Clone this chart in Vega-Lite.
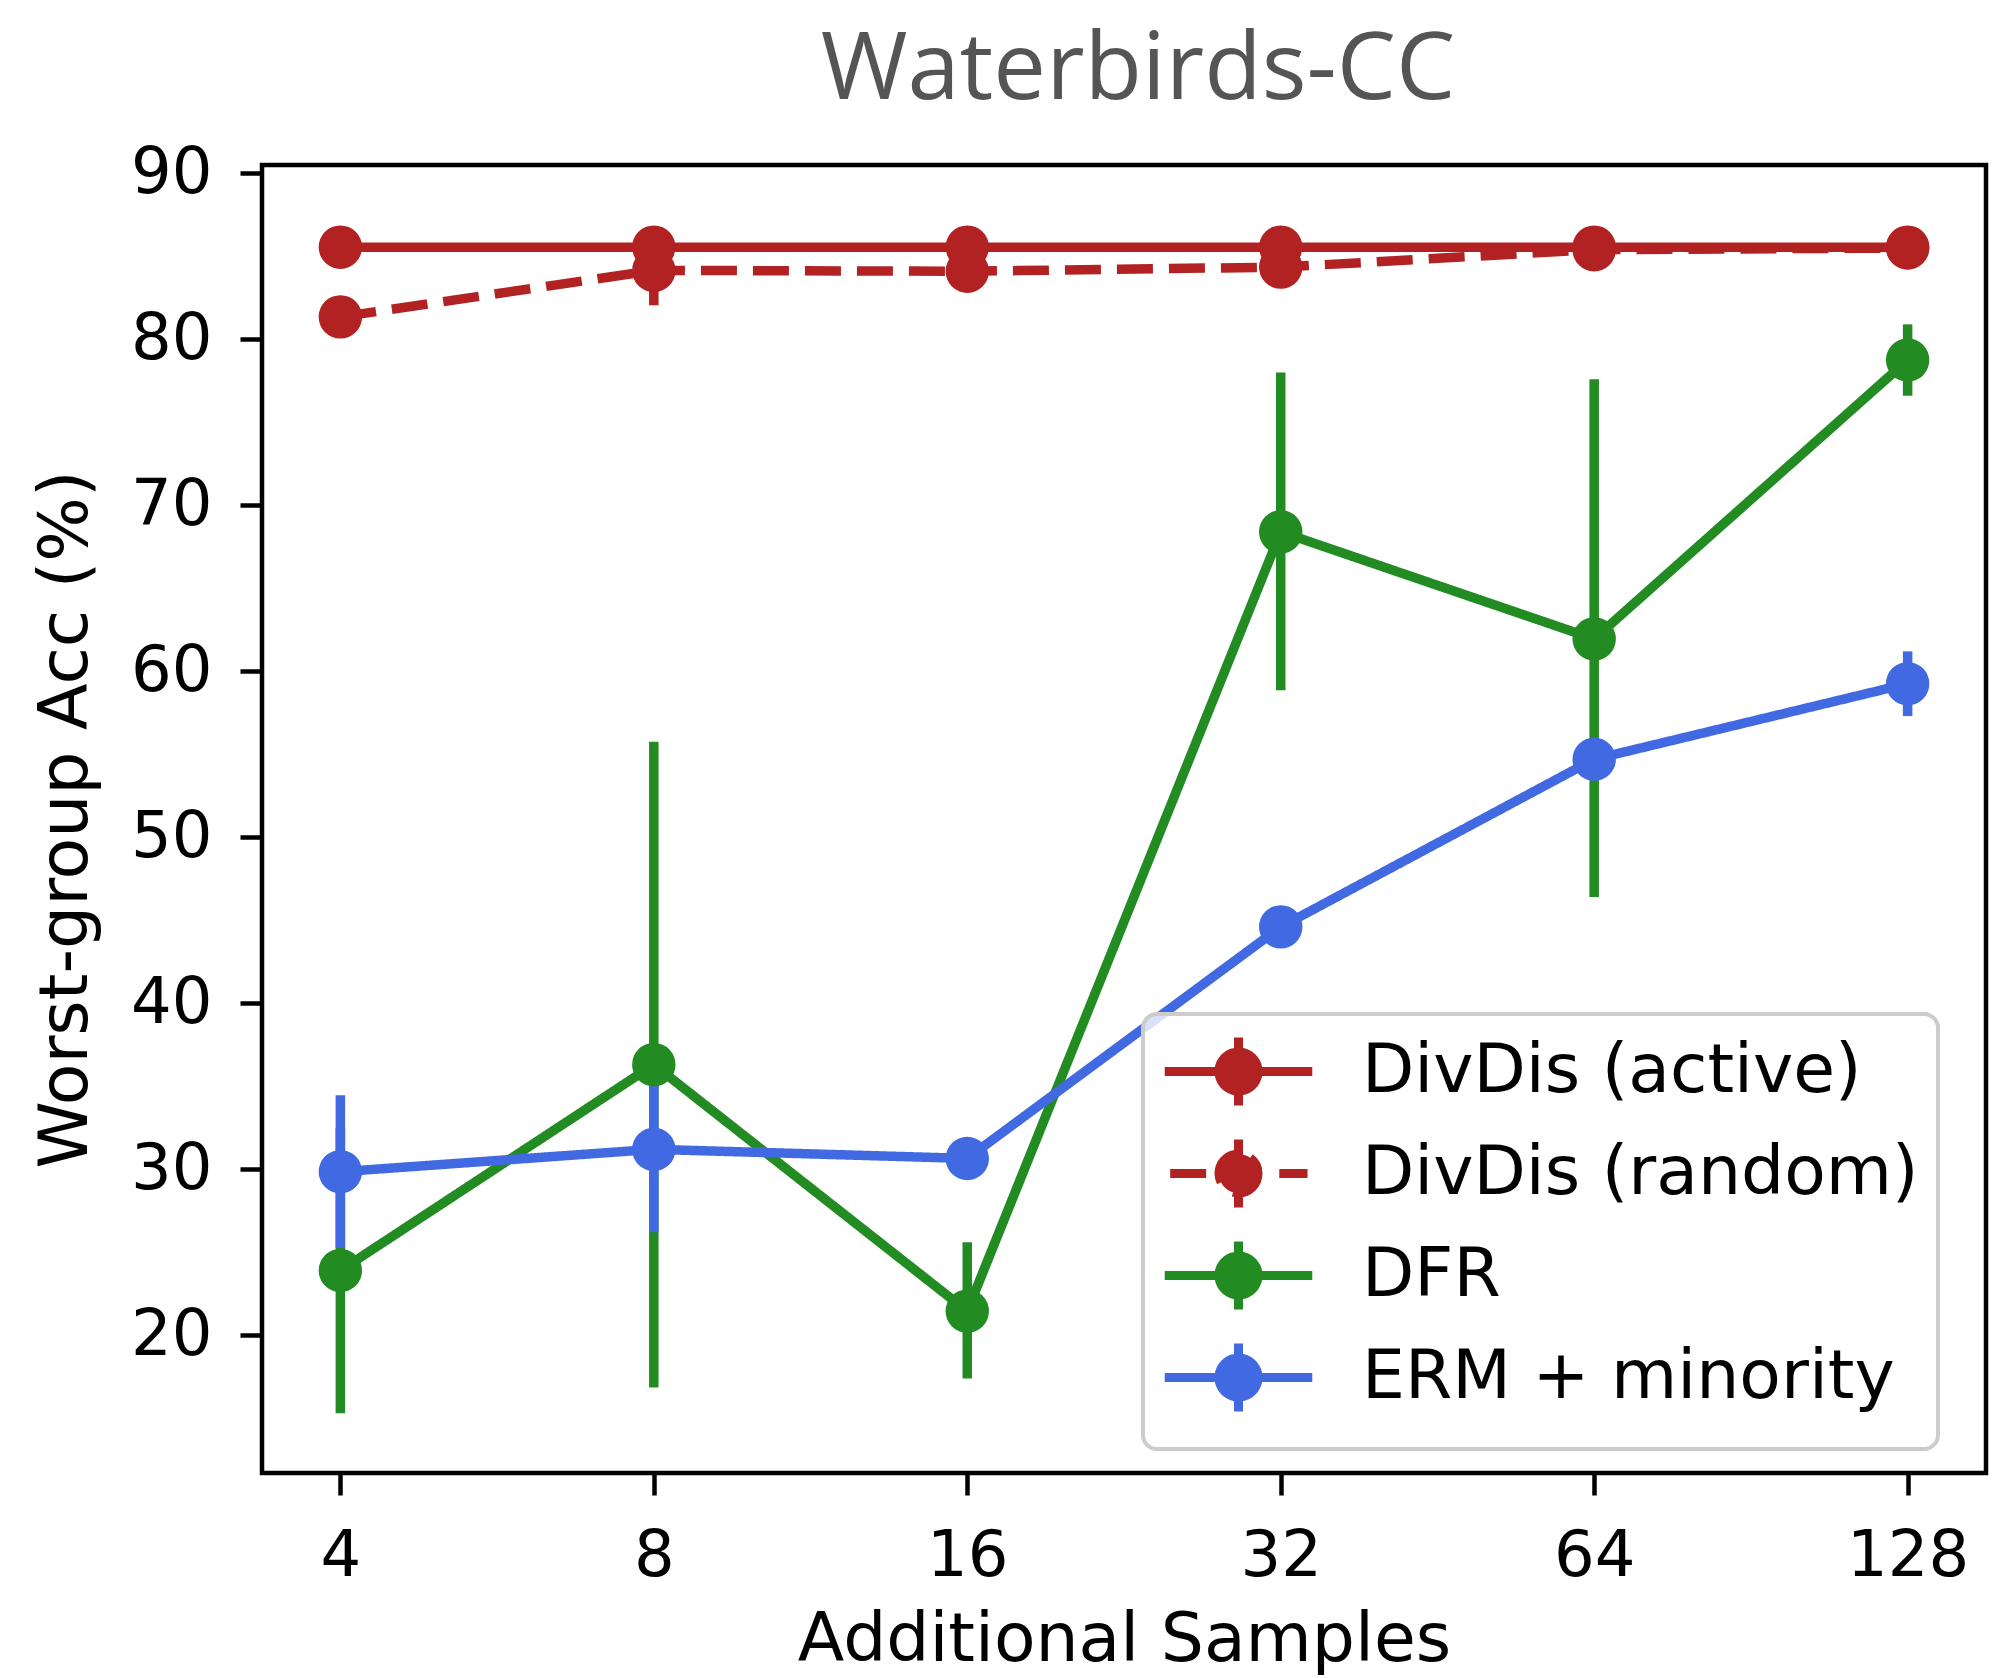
{
  "$schema": "https://vega.github.io/schema/vega-lite/v6.json",
  "autosize": {"type": "none"},
  "padding": {"left": 262, "top": 165, "right": 6, "bottom": 205},
  "width": 1724,
  "height": 1308,
  "background": "white",
  "title": {
    "text": "Waterbirds-CC",
    "font": "Open Sans",
    "fontSize": 94,
    "fontWeight": "normal",
    "color": "#555555",
    "anchor": "middle",
    "frame": "group",
    "baseline": "alphabetic",
    "offset": -52,
    "dx": 14
  },
  "config": {
    "font": "DejaVu Sans",
    "view": {"stroke": "black", "strokeWidth": 4.5},
    "axis": {
      "domain": false,
      "grid": false,
      "ticks": true,
      "tickColor": "black",
      "tickWidth": 4.5,
      "tickSize": 22,
      "labelFont": "DejaVu Sans",
      "labelFontSize": 64,
      "labelColor": "black",
      "titleFont": "DejaVu Sans",
      "titleFontSize": 68,
      "titleFontWeight": "normal",
      "titleColor": "black"
    }
  },
  "data": {
    "values": [
      {"method": "DivDis (active)", "n": 4, "acc": 85.55, "lo": 85.55, "hi": 85.55},
      {"method": "DivDis (active)", "n": 8, "acc": 85.55, "lo": 85.55, "hi": 85.55},
      {"method": "DivDis (active)", "n": 16, "acc": 85.55, "lo": 85.55, "hi": 85.55},
      {"method": "DivDis (active)", "n": 32, "acc": 85.55, "lo": 85.55, "hi": 85.55},
      {"method": "DivDis (active)", "n": 64, "acc": 85.55, "lo": 85.55, "hi": 85.55},
      {"method": "DivDis (active)", "n": 128, "acc": 85.55, "lo": 85.55, "hi": 85.55},
      {"method": "DivDis (random)", "n": 4, "acc": 81.35, "lo": 80.75, "hi": 81.95},
      {"method": "DivDis (random)", "n": 8, "acc": 84.15, "lo": 82.05, "hi": 86.25},
      {"method": "DivDis (random)", "n": 16, "acc": 84.1, "lo": 83.5, "hi": 84.7},
      {"method": "DivDis (random)", "n": 32, "acc": 84.35, "lo": 83.55, "hi": 85.15},
      {"method": "DivDis (random)", "n": 64, "acc": 85.4, "lo": 85.0, "hi": 85.8},
      {"method": "DivDis (random)", "n": 128, "acc": 85.5, "lo": 85.3, "hi": 85.7},
      {"method": "DFR", "n": 4, "acc": 23.9, "lo": 15.3, "hi": 32.5},
      {"method": "DFR", "n": 8, "acc": 36.3, "lo": 16.85, "hi": 55.75},
      {"method": "DFR", "n": 16, "acc": 21.45, "lo": 17.4, "hi": 25.6},
      {"method": "DFR", "n": 32, "acc": 68.4, "lo": 58.85, "hi": 78.0},
      {"method": "DFR", "n": 64, "acc": 61.95, "lo": 46.4, "hi": 77.6},
      {"method": "DFR", "n": 128, "acc": 78.75, "lo": 76.6, "hi": 80.9},
      {"method": "ERM + minority", "n": 4, "acc": 29.85, "lo": 25.25, "hi": 34.45},
      {"method": "ERM + minority", "n": 8, "acc": 31.2, "lo": 26.2, "hi": 36.2},
      {"method": "ERM + minority", "n": 16, "acc": 30.65, "lo": 29.9, "hi": 31.4},
      {"method": "ERM + minority", "n": 32, "acc": 44.6, "lo": 44.0, "hi": 45.2},
      {"method": "ERM + minority", "n": 64, "acc": 54.7, "lo": 53.8, "hi": 55.6},
      {"method": "ERM + minority", "n": 128, "acc": 59.25, "lo": 57.3, "hi": 61.2}
    ]
  },
  "encoding": {
    "x": {
      "field": "n",
      "type": "quantitative",
      "scale": {"type": "log", "base": 2, "domain": [3.3636, 152.22], "nice": false},
      "axis": {"values": [4, 8, 16, 32, 64, 128], "format": "d", "title": "Additional Samples", "labelPadding": 29, "titlePadding": 18, "labelFlush": false}
    },
    "color": {
      "field": "method",
      "type": "nominal",
      "scale": {
        "domain": ["DivDis (active)", "DivDis (random)", "DFR", "ERM + minority"],
        "range": ["#b22222", "#b22222", "#228b22", "#4169e1"]
      },
      "legend": {
        "title": null,
        "orient": "none",
        "legendX": 881,
        "legendY": 849,
        "padding": 19,
        "rowPadding": -3,
        "symbolOffset": 38,
        "labelOffset": 85,
        "labelFont": "DejaVu Sans",
        "labelFontSize": 68,
        "labelColor": "black",
        "labelLimit": 0,
        "fillColor": "rgba(255,255,255,0.8)",
        "strokeColor": "#cccccc",
        "symbolSize": 4624,
        "symbolStrokeWidth": 9,
        "cornerRadius": 14,
        "encode": {
          "legend": {"update": {"strokeWidth": {"value": 4}}},
          "symbols": {
            "update": {
              "shape": {"signal": "datum.value === 'DivDis (random)' ? 'M-2.01,0L-0.88,0M1.2,0L2.03,0M0,-1L0,1M0.574,0A0.574,0.574,0,1,1,-0.574,0A0.574,0.574,0,1,1,0.574,0Z' : 'M-2.17,0L2.17,0M0,-1L0,1M0.574,0A0.574,0.574,0,1,1,-0.574,0A0.574,0.574,0,1,1,0.574,0Z'"},
              "fill": {"scale": "color", "field": "value"},
              "stroke": {"scale": "color", "field": "value"},
              "strokeWidth": {"value": 9},
              "opacity": {"value": 1}
            }
          }
        }
      }
    }
  },
  "layer": [
    {
      "mark": {"type": "rule", "strokeWidth": 9.5},
      "encoding": {
        "y": {"field": "lo", "type": "quantitative"},
        "y2": {"field": "hi"}
      }
    },
    {
      "mark": {"type": "line", "strokeWidth": 9.5},
      "encoding": {
        "y": {
          "field": "acc",
          "type": "quantitative",
          "scale": {"domain": [11.7, 90.5], "nice": false, "zero": false},
          "axis": {"values": [20, 30, 40, 50, 60, 70, 80, 90], "title": "Worst-group Acc (%)", "labelPadding": 28, "titlePadding": 30}
        },
        "strokeDash": {
          "field": "method",
          "type": "nominal",
          "scale": {
            "domain": ["DivDis (active)", "DivDis (random)", "DFR", "ERM + minority"],
            "range": [[1, 0], [36, 16], [1, 0], [1, 0]]
          },
          "legend": null
        }
      }
    },
    {
      "mark": {"type": "point", "filled": true, "opacity": 1, "size": 1886},
      "encoding": {
        "y": {"field": "acc", "type": "quantitative"}
      }
    }
  ]
}
